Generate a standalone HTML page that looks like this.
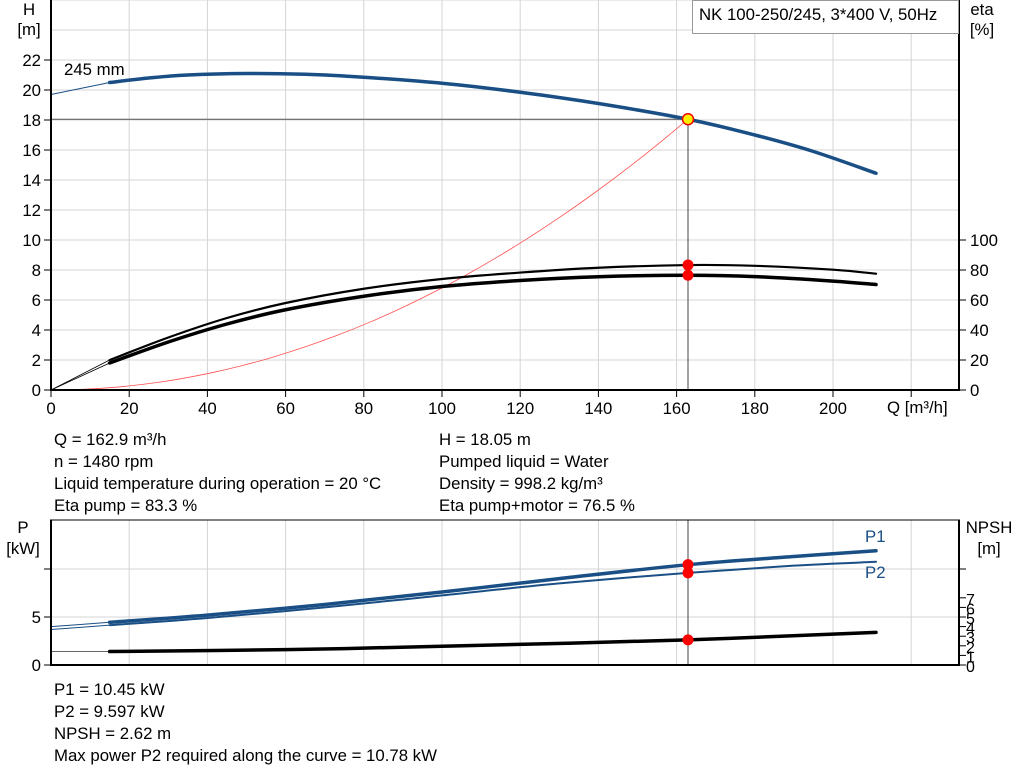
<!DOCTYPE html>
<html><head><meta charset="utf-8"><style>
body{margin:0;background:#fff;width:1024px;height:781px;overflow:hidden}
svg{display:block;font-family:"Liberation Sans",Arial,sans-serif}
text{font-size:16.8px;fill:#000}
</style></head><body>
<svg id="s" width="1024" height="781" xmlns="http://www.w3.org/2000/svg">
<g id="grid" stroke="#d4d4d4" stroke-width="1"></g>
<g id="curves"></g>
<g id="axes" stroke="#000"></g>
<g id="labels"></g>
<rect x="692.5" y="0.5" width="266" height="33" fill="#fff" stroke="#999"/>
<text x="699" y="20">NK 100-250/245, 3*400 V, 50Hz</text>
<text x="982" y="15" text-anchor="middle">eta</text>
<text x="982" y="35" text-anchor="middle">[%]</text>
<text x="29" y="15" text-anchor="middle">H</text>
<text x="29" y="35" text-anchor="middle">[m]</text>
<text x="64" y="75">245 mm</text>
<text x="887" y="413">Q [m³/h]</text>
<text x="54" y="445">Q = 162.9 m³/h</text>
<text x="54" y="467">n = 1480 rpm</text>
<text x="54" y="489">Liquid temperature during operation = 20 °C</text>
<text x="54" y="511">Eta pump = 83.3 %</text>
<text x="439" y="445">H = 18.05 m</text>
<text x="439" y="467">Pumped liquid = Water</text>
<text x="439" y="489">Density = 998.2 kg/m³</text>
<text x="439" y="511">Eta pump+motor = 76.5 %</text>
<text x="23" y="533" text-anchor="middle">P</text>
<text x="23" y="554" text-anchor="middle">[kW]</text>
<text x="989" y="533" text-anchor="middle">NPSH</text>
<text x="989" y="554" text-anchor="middle">[m]</text>
<text x="865" y="542" style="fill:#1a4f85">P1</text>
<text x="865" y="578" style="fill:#1a4f85">P2</text>
<text x="54" y="695">P1 = 10.45 kW</text>
<text x="54" y="717">P2 = 9.597 kW</text>
<text x="54" y="739">NPSH = 2.62 m</text>
<text x="54" y="761">Max power P2 required along the curve = 10.78 kW</text>
</svg>
<script>
const NS="http://www.w3.org/2000/svg";
function el(p,t,a,txt){const e=document.createElementNS(NS,t);for(const k in a)e.setAttribute(k,a[k]);if(txt!==undefined)e.textContent=txt;document.getElementById(p).appendChild(e);return e;}
const X=q=>51+q*3.91, YH=h=>390-h*15, YE=e=>390-e*1.5, YP=p=>665-p*9.6;
for(let q=20;q<=220;q+=20){el('grid','line',{x1:X(q),y1:0,x2:X(q),y2:390});el('grid','line',{x1:X(q),y1:520,x2:X(q),y2:665});}
for(let h=2;h<=26;h+=2){el('grid','line',{x1:51,y1:YH(h),x2:959,y2:YH(h)});}
el('grid','line',{x1:51,y1:569,x2:959,y2:569});el('grid','line',{x1:51,y1:617,x2:959,y2:617});
el('axes','line',{x1:51,y1:0,x2:51,y2:390,'stroke-width':2});
el('axes','line',{x1:959,y1:0,x2:959,y2:390,'stroke-width':2});
el('axes','line',{x1:50,y1:390,x2:960,y2:390,'stroke-width':2});
el('axes','line',{x1:51,y1:520,x2:51,y2:665,'stroke-width':2});
el('axes','line',{x1:959,y1:520,x2:959,y2:665,'stroke-width':2});
el('axes','line',{x1:50,y1:665,x2:960,y2:665,'stroke-width':2});
el('axes','line',{x1:50,y1:520,x2:960,y2:520,'stroke-width':1});
for(let h=0;h<=22;h+=2){el('axes','line',{x1:44,y1:YH(h),x2:51,y2:YH(h)});el('labels','text',{x:41,y:YH(h)+6,'text-anchor':'end'},h);}
for(let e=0;e<=100;e+=20){el('axes','line',{x1:959,y1:YE(e),x2:966,y2:YE(e)});el('labels','text',{x:970,y:YE(e)+6},e);}
for(let q=0;q<=220;q+=20){el('axes','line',{x1:X(q),y1:390,x2:X(q),y2:397});if(q<=200)el('labels','text',{x:X(q),y:414,'text-anchor':'middle'},q);}
for(let p of[0,5,10]){el('axes','line',{x1:44,y1:YP(p),x2:51,y2:YP(p)});if(p<10)el('labels','text',{x:41,y:YP(p)+6,'text-anchor':'end'},p);}
for(let n=0;n<=7;n++){el('axes','line',{x1:959,y1:YP(n),x2:966,y2:YP(n)});el('labels','text',{x:966,y:YP(n)+7,style:'font-size:16px'},n);}
el('axes','line',{x1:959,y1:569,x2:966,y2:569});
function cr(pts,fx,fy){const P=pts.map(p=>[fx(p[0]),fy(p[1])]);let d='M'+P[0][0]+' '+P[0][1];for(let i=0;i<P.length-1;i++){const p0=P[Math.max(0,i-1)],p1=P[i],p2=P[i+1],p3=P[Math.min(P.length-1,i+2)];const c1=[p1[0]+(p2[0]-p0[0])/6,p1[1]+(p2[1]-p0[1])/6],c2=[p2[0]-(p3[0]-p1[0])/6,p2[1]-(p3[1]-p1[1])/6];d+=` C${c1[0]} ${c1[1]} ${c2[0]} ${c2[1]} ${p2[0]} ${p2[1]}`;}return d;}
function path(d,c,w){el('curves','path',{d:d,fill:'none',stroke:c,'stroke-width':w,'stroke-linecap':'round'});}
const B='#1a4f85';
el('curves','line',{x1:51,y1:YH(18.05),x2:688,y2:YH(18.05),stroke:'#555','stroke-width':1});
el('curves','line',{x1:688,y1:YH(18.05),x2:688,y2:390,stroke:'#444','stroke-width':1});
el('curves','line',{x1:688,y1:520,x2:688,y2:665,stroke:'#444','stroke-width':1});
let sc=[];for(let q=0;q<=162.9;q+=8.145)sc.push([q,18.05*(q/162.9)**2]);
path(cr(sc,X,YH),'#ff5050',0.8);
path(cr([[0,19.7],[15,20.5]],X,YH),B,1);
path(cr([[15,20.5],[25,20.8],[35,21.0],[50,21.1],[65,21.05],[80,20.85],[100,20.45],[120,19.85],[140,19.1],[162.9,18.05],[180,17.0],[195,15.9],[211,14.45]],X,YH),B,3.5);
path(cr([[0,0],[15,20]],X,YE),'#000',0.8);path(cr([[0,0],[15,18]],X,YE),'#000',0.8);
path(cr([[15,20],[30,35],[45,48],[60,58],[80,67.5],[100,74],[120,78.3],[140,81.5],[162.9,83.3],[180,82.8],[200,80.2],[211,77.5]],X,YE),'#000',2.2);
path(cr([[15,18],[30,32],[45,44],[60,53.5],[80,62.5],[100,69],[120,73],[140,75.5],[162.9,76.5],[180,75.6],[200,72.6],[211,70.3]],X,YE),'#000',3.5);
path(cr([[0,4.0],[15,4.45]],X,YP),B,1);path(cr([[0,3.7],[15,4.15]],X,YP),B,1);
path(cr([[15,4.45],[40,5.2],[70,6.3],[100,7.6],[130,9.0],[162.9,10.45],[190,11.3],[211,11.9]],X,YP),B,3.5);
path(cr([[15,4.15],[40,4.9],[70,6.0],[100,7.25],[130,8.5],[162.9,9.6],[190,10.35],[211,10.75]],X,YP),B,2);
el('curves','line',{x1:51,y1:YP(1.4),x2:X(15),y2:YP(1.4),stroke:'#666','stroke-width':1});
path(cr([[15,1.4],[60,1.6],[100,1.95],[162.9,2.62],[211,3.4]],X,YP),'#000',3.5);
el('curves','circle',{cx:688,cy:YH(18.05),r:5.5,fill:'#ffee00',stroke:'#e00','stroke-width':1.5});
for(const y of [YE(83.3),YE(76.5),YP(10.45),YP(9.6),YP(2.62)])el('curves','circle',{cx:688,cy:y,r:5.5,fill:'#f00'});
</script>
</body></html>
